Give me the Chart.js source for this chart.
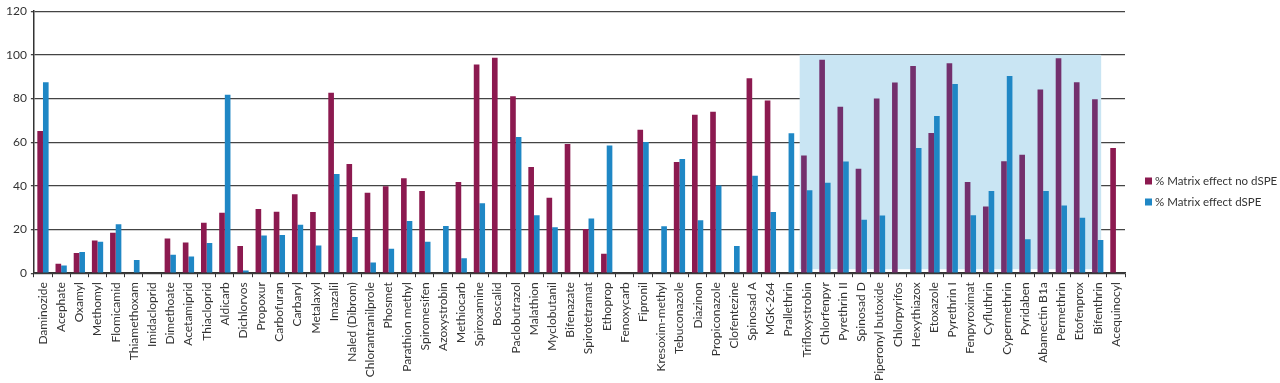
<!DOCTYPE html>
<html>
<head>
<meta charset="utf-8">
<script src="https://cdn.jsdelivr.net/npm/chart.js@4"></script>
<style>
  html, body { margin: 0; padding: 0; background: #fff; }
  #wrap { width: 1280px; height: 383px; }
</style>
</head>
<body>
<div id="wrap"><canvas id="myChart"></canvas></div>
<script>
// Pesticide names (x axis)
const compounds = [
    'Daminozide', 'Acephate', 'Oxamyl', 'Methomyl', 'Flomicamid', 'Thiamethoxam', 'Imidacloprid',
    'Dimethoate', 'Acetamiprid', 'Thiacloprid', 'Aldicarb', 'Dichlorvos', 'Propoxur', 'Carbofuran',
    'Carbaryl', 'Metalaxyl', 'Imazalil', 'Naled (Dibrom)', 'Chlorantranilprole', 'Phosmet',
    'Parathion methyl', 'Spiromesifen', 'Azoxystrobin', 'Methiocarb', 'Spiroxamine', 'Boscalid',
    'Paclobutrazol', 'Malathion', 'Myclobutanil', 'Bifenazate', 'Spirotetramat', 'Ethoprop',
    'Fenoxycarb', 'Fipronil', 'Kresoxim-methyl', 'Tebuconazole', 'Diazinon', 'Propiconazole',
    'Clofentezine', 'Spinosad A', 'MGK-264', 'Prallethrin', 'Trifloxystrobin', 'Chlorfenpyr',
    'Pyrethrin II', 'Spinosad D', 'Piperonyl butoxide', 'Chlorpyrifos', 'Hexythiazox', 'Etoxazole',
    'Pyrethrin I', 'Fenpyroximat', 'Cyfluthrin', 'Cypermethrin', 'Pyridaben', 'Abamectin B1a',
    'Permethrin', 'Etofenprox', 'Bifenthrin', 'Acequinocyl'
];

// % Matrix effect no dSPE
const noDspe = [
    65.1, 4.3, 9.3, 15.0, 18.5, 0, 0, 15.9, 14.1, 23.1, 27.7, 12.4, 29.4, 28.2,
    36.2, 28.0, 82.6, 50.0, 36.9, 39.8, 43.5, 37.7, 0, 41.8, 95.6, 98.7,
    81.1, 48.6, 34.5, 59.2, 20.2, 8.9, 0, 65.7, 0, 50.9, 72.6, 73.9,
    0, 89.3, 79.1, 0, 53.9, 97.8, 76.2, 47.8, 80.0, 87.4, 94.9, 64.2,
    96.2, 41.8, 30.5, 51.3, 54.3, 84.1, 98.5, 87.5, 79.7, 57.3
];

// % Matrix effect dSPE
const withDspe = [
    87.5, 3.5, 9.7, 14.4, 22.4, 6.1, 0, 8.4, 7.7, 13.8, 81.7, 1.2, 17.3, 17.5,
    22.2, 12.7, 45.4, 16.6, 4.9, 11.2, 23.9, 14.4, 21.6, 6.9, 32.0, 0,
    62.4, 26.5, 21.0, 0, 25.1, 58.5, 0, 60.1, 21.5, 52.3, 24.2, 40.2,
    12.4, 44.6, 28.0, 64.1, 38.0, 41.4, 51.2, 24.5, 26.4, 0, 57.3, 72.0,
    86.7, 26.5, 37.7, 90.3, 15.6, 37.7, 31.0, 25.4, 15.2, 0
];

const yTicks = [0, 20, 40, 60, 80, 100, 120];

// highlighted block: Trifloxystrobin .. Bifenthrin, up to 100
const shadeFrom = 'Trifloxystrobin';
const shadeTo = 'Bifenthrin';
const shadeTop = 100;

const iFrom = compounds.indexOf(shadeFrom);
const iTo = compounds.indexOf(shadeTo);
const maroonColors = compounds.map((c, i) => (i >= iFrom && i <= iTo) ? '#73306d' : '#8c1a50');

const shadePlugin = {
    id: 'shade',
    beforeDatasetsDraw(chart) {
        const x = chart.scales.x, y = chart.scales.y;
        const step = x.getPixelForValue(1) - x.getPixelForValue(0);
        const left = x.getPixelForValue(iFrom) - step / 2 + 2;
        const right = x.getPixelForValue(iTo) + step * 0.19;
        const top = y.getPixelForValue(shadeTop);
        const bottom = y.getPixelForValue(0) - 4;
        const ctx = chart.ctx;
        ctx.save();
        ctx.fillStyle = '#c9e5f3';
        ctx.fillRect(left, top, right - left, bottom - top);
        ctx.restore();
    }
};

// legend on the right, drawn by hand so the gap to the plot is kept
const legendPlugin = {
    id: 'sideLegend',
    afterDraw(chart) {
        const ctx = chart.ctx;
        const x0 = chart.chartArea.right + 20;
        let y = chart.height / 2 - 10.5;
        ctx.save();
        ctx.font = '11.5px Lato';
        ctx.textBaseline = 'middle';
        chart.data.datasets.forEach(ds => {
            const col = Array.isArray(ds.backgroundColor) ? ds.backgroundColor[0] : ds.backgroundColor;
            ctx.fillStyle = col;
            ctx.fillRect(x0, y - 3.5, 7, 7);
            ctx.fillStyle = '#333';
            ctx.fillText(ds.label, x0 + 10, y);
            y += 21;
        });
        ctx.restore();
    }
};

const chart = new Chart(document.getElementById('myChart'), {
    type: 'bar',
    data: {
        labels: compounds,
        datasets: [
            { label: '% Matrix effect no dSPE', data: noDspe, backgroundColor: maroonColors },
            { label: '% Matrix effect dSPE', data: withDspe, backgroundColor: '#1f87c5' }
        ]
    },
    options: {
        responsive: true,
        maintainAspectRatio: false,
        animation: false,
        layout: { padding: { top: 6, right: 155, left: 2, bottom: -3 } },
        datasets: { bar: { barPercentage: 1.0, categoryPercentage: 0.62 } },
        scales: {
            x: {
                grid: { offset: true, drawOnChartArea: false, color: '#333', tickLength: 4, lineWidth: 1 },
                border: { color: '#333', width: 1.5 },
                ticks: {
                    autoSkip: false, minRotation: 90, maxRotation: 90,
                    color: '#333', padding: 5,
                    font: { family: 'Lato', size: 12 }
                }
            },
            y: {
                min: 0, max: 120,
                afterBuildTicks: (axis) => { axis.ticks = yTicks.map(v => ({ value: v })); },
                grid: { color: '#444', lineWidth: 1.3, tickLength: 3 },
                border: { color: '#333', width: 1.5 },
                ticks: { color: '#333', padding: 4, font: { family: 'Lato', size: 12 } }
            }
        },
        plugins: {
            tooltip: { enabled: false },
            legend: { display: false }
        }
    },
    plugins: [shadePlugin, legendPlugin]
});
</script>
</body>
</html>
